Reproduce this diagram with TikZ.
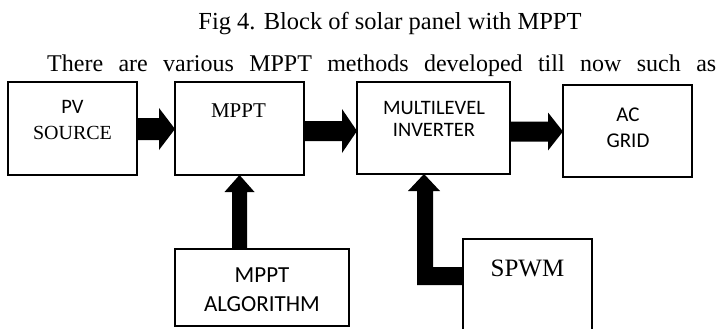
\documentclass[tikz,border=0pt]{standalone}
\usepackage{fontspec}
\setmainfont{Liberation Serif}
\newfontfamily\calfont{Carlito}
\usetikzlibrary{calc}
\begin{document}
\begin{tikzpicture}[x=1pt,y=-1pt,
  box/.style={draw, line width=2pt, inner sep=0pt, outer sep=0pt},
  lbl/.style={anchor=base, inner sep=0pt},
  bigserif/.style={font=\fontsize{24}{29}\selectfont},
  boxserif/.style={font=\fontsize{20}{24}\selectfont},
  boxsans/.style={font=\calfont\fontsize{20.5}{24}\selectfont},
  algsans/.style={font=\calfont\fontsize{23}{27}\selectfont},
  blockarrow/.style={fill=black}]
\useasboundingbox (0,0) rectangle (720,329);
\fill[white] (0,0) rectangle (720,329);

% captions
\node[lbl, font=\fontsize{24.5}{29}\selectfont] (title) at (390,30) {Fig 4. Block of solar panel with MPPT};
\node[lbl, anchor=base west, bigserif] (para) at (47,72) {\makebox[669pt][s]{There are various MPPT methods developed till now such as}};

% boxes
\node[box, minimum width=129pt, minimum height=93pt] (pv) at (72.5,128.5) {};
\node[box, minimum width=129pt, minimum height=93pt] (mppt) at (239.5,128.5) {};
\node[box, minimum width=153pt, minimum height=92pt] (inv) at (433.5,128) {};
\node[box, minimum width=129pt, minimum height=92pt] (ac) at (627.5,131) {};
\node[box, minimum width=174pt, minimum height=77pt] (alg) at (262,287.5) {};
\node[box, minimum width=129pt, minimum height=110pt] (spwm) at (527.5,294) {};

% box texts
\node[lbl, boxsans] (pvA) at (72.5,113.6) {PV};
\node[lbl, boxserif] (pvB) at (72.5,139.6) {SOURCE};
\node[lbl, font=\fontsize{21}{25}\selectfont] (mpptA) at (238.5,117) {MPPT};
\node[lbl, boxsans] (invA) at (434,114.6) {MULTILEVEL};
\node[lbl, boxsans] (invB) at (434,136.6) {INVERTER};
\node[lbl, font=\calfont\fontsize{21}{25}\selectfont] (acA) at (628,121) {AC};
\node[lbl, font=\calfont\fontsize{21}{25}\selectfont] (acB) at (628,147) {GRID};
\node[lbl, font=\fontsize{25}{30}\selectfont] (spwmA) at (527.5,276) {SPWM};
\node[lbl, algsans] (algA) at (262,282.4) {MPPT};
\node[lbl, algsans] (algB) at (262,311.4) {ALGORITHM};

% arrow reference coordinates
\coordinate (r1) at (0,129);
\coordinate (r2) at (0,131);
\coordinate (r3) at (0,131.5);
\coordinate (c4) at (239.5,0);
\coordinate (c5) at (424,0);

% block arrows
\fill[blockarrow] (pv.east |- r1) ++(0,-11) -- ++(22,0) -- ++(0,-10) -- (mppt.west |- r1)
  -- ++(-16,21) -- ++(0,-10) -- ++(-22,0) -- cycle;
\fill[blockarrow] (mppt.east |- r2) ++(0,-10) -- ++(38,0) -- ++(0,-12) -- (inv.west |- r2)
  -- ++(-15,22) -- ++(0,-12) -- ++(-38,0) -- cycle;
\fill[blockarrow] (inv.east |- r3) ++(0,-10) -- ++(38,0) -- ++(0,-9) -- (ac.west |- r3)
  -- ++(-15,19) -- ++(0,-9) -- ++(-38,0) -- cycle;
\fill[blockarrow] (mppt.south -| c4) -- ++(15,17) -- ++(-7.5,0) -- ++(0,57) -- ++(-15,0)
  -- ++(0,-57) -- ++(-7.5,0) -- cycle;
\fill[blockarrow] (inv.south -| c5) -- ++(16,17) -- ++(-7,0) -- ++(0,76) -- (spwm.west |- 0,267)
  -- ++(0,18) -- ++(-46,0) -- ++(0,-94) -- ++(-9,0) -- cycle;
\end{tikzpicture}
\end{document}
